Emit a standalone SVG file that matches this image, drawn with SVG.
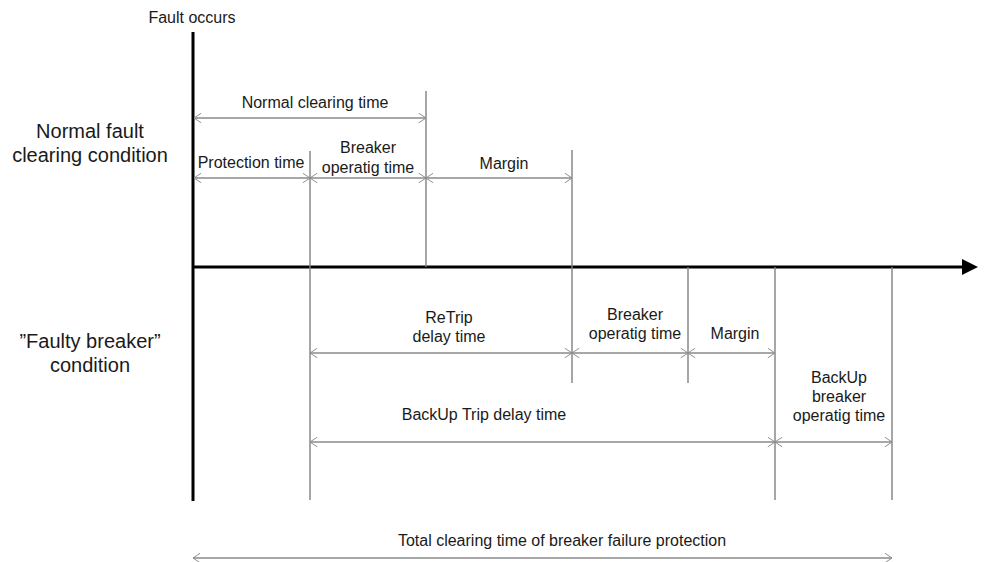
<svg xmlns="http://www.w3.org/2000/svg" width="986" height="562" viewBox="0 0 986 562">
  <style>
    text { font-family: "Liberation Sans", Arial, sans-serif; fill: #1a1a1a; text-anchor: middle; }
    .lbl { font-size: 16px; }
    .cond { font-size: 20px; }
    .dim { stroke: #8a8a8a; stroke-width: 1.4; fill: none; marker-start: url(#open); marker-end: url(#open); }
    .tick { stroke: #808080; stroke-width: 1.4; fill: none; }
    .axis { stroke: #000; stroke-width: 3; fill: none; }
  </style>
  <defs>
    <marker id="open" viewBox="0 0 10 12" refX="10" refY="6" markerWidth="8" markerHeight="11" markerUnits="userSpaceOnUse" orient="auto-start-reverse">
      <path d="M1,0 L10,6 L1,12" fill="none" stroke="#8a8a8a" stroke-width="1.2"/>
    </marker>
    <marker id="solid" viewBox="0 0 16 16" refX="2" refY="8" markerWidth="16" markerHeight="16" markerUnits="userSpaceOnUse" orient="auto">
      <path d="M0,0 L16,8 L0,16 Z" fill="#000"/>
    </marker>
  </defs>

  <!-- time axes -->
  <g id="axes">
    <line class="axis" x1="193" y1="32" x2="193" y2="501"/>
    <line class="axis" x1="193" y1="267" x2="964" y2="267" marker-end="url(#solid)"/>
    <text class="lbl" x="192" y="23">Fault occurs</text>
  </g>

  <!-- row titles -->
  <g id="row-normal">
    <text class="cond" x="90" y="138">Normal fault</text>
    <text class="cond" x="90" y="162">clearing condition</text>
  </g>
  <g id="row-faulty">
    <text class="cond" x="90" y="348">”Faulty breaker”</text>
    <text class="cond" x="90" y="372">condition</text>
  </g>

  <!-- time instants -->
  <g id="instants">
    <line class="tick" x1="310" y1="151" x2="310" y2="500"/>
    <line class="tick" x1="426" y1="91" x2="426" y2="267"/>
    <line class="tick" x1="572" y1="150" x2="572" y2="383"/>
    <line class="tick" x1="688" y1="267" x2="688" y2="383"/>
    <line class="tick" x1="775" y1="267" x2="775" y2="500"/>
    <line class="tick" x1="892" y1="267" x2="892" y2="500"/>
  </g>

  <!-- interval dimensions -->
  <g id="connectors">
    <line class="dim" x1="194" y1="118" x2="426" y2="118"/>
    <line class="dim" x1="194" y1="178" x2="310" y2="178"/>
    <line class="dim" x1="310" y1="178" x2="426" y2="178"/>
    <line class="dim" x1="426" y1="178" x2="572" y2="178"/>
    <line class="dim" x1="310" y1="353" x2="572" y2="353"/>
    <line class="dim" x1="572" y1="353" x2="688" y2="353"/>
    <line class="dim" x1="688" y1="353" x2="775" y2="353"/>
    <line class="dim" x1="310" y1="442" x2="775" y2="442"/>
    <line class="dim" x1="775" y1="442" x2="892" y2="442"/>
    <line class="dim" x1="193" y1="558" x2="892" y2="558"/>
  </g>

  <!-- interval labels -->
  <g id="normal-clearing"><text class="lbl" x="315" y="108">Normal clearing time</text></g>
  <g id="protection"><text class="lbl" x="251" y="168">Protection time</text></g>
  <g id="breaker-op-1">
    <text class="lbl" x="368" y="153">Breaker</text>
    <text class="lbl" x="368" y="173">operatig time</text>
  </g>
  <g id="margin-1"><text class="lbl" x="504" y="169">Margin</text></g>
  <g id="retrip">
    <text class="lbl" x="449" y="323">ReTrip</text>
    <text class="lbl" x="449" y="342">delay time</text>
  </g>
  <g id="breaker-op-2">
    <text class="lbl" x="635" y="320">Breaker</text>
    <text class="lbl" x="635" y="339">operatig time</text>
  </g>
  <g id="margin-2"><text class="lbl" x="735" y="339">Margin</text></g>
  <g id="backup-trip"><text class="lbl" x="484" y="420">BackUp Trip delay time</text></g>
  <g id="backup-breaker">
    <text class="lbl" x="839" y="383">BackUp</text>
    <text class="lbl" x="839" y="402">breaker</text>
    <text class="lbl" x="839" y="421">operatig time</text>
  </g>
  <g id="total"><text class="lbl" x="562" y="546">Total clearing time of breaker failure protection</text></g>
</svg>
